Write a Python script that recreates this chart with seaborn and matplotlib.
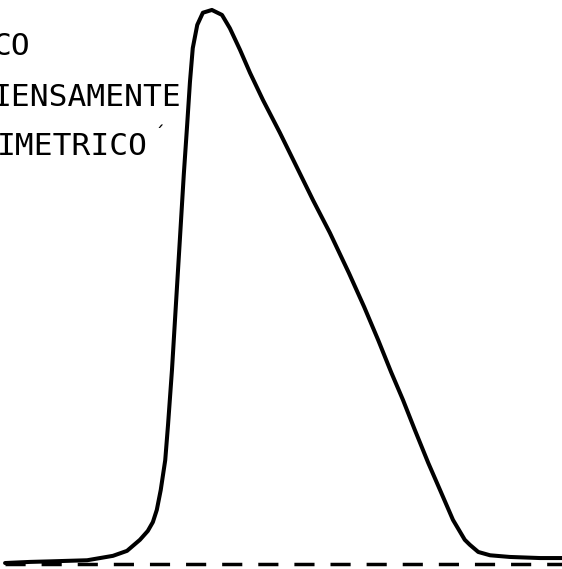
import matplotlib
matplotlib.use("Agg")
import matplotlib.pyplot as plt
import seaborn as sns
import pandas as pd

# Elution profile: retention (relative units) vs. detector response (% of peak)
retention = [0.9, 5.3, 8.9, 15.5, 17.8, 20.1, 22.6, 24.9, 26.3, 27.2, 27.9,
             28.6, 29.4, 29.9, 30.6, 31.3, 32.0, 32.7, 33.3, 33.8, 34.3,
             35.1, 36.1, 37.7, 39.5, 40.9, 42.7, 44.5, 46.8, 49.8, 52.8,
             55.7, 58.7, 62.1, 64.8, 67.3, 69.6, 71.7, 73.8, 76.2, 78.3,
             80.6, 82.7, 83.6, 85.1, 87.2, 90.7, 96.1, 100.0]
response = [0.0, 0.2, 0.3, 0.5, 0.9, 1.3, 2.2, 4.2, 5.8, 7.4, 9.6,
            13.2, 18.6, 25.0, 34.9, 46.7, 58.4, 70.2, 79.2, 87.0, 93.1,
            97.3, 99.5, 100.0, 99.1, 96.7, 92.8, 88.6, 83.7, 77.8, 71.6,
            65.6, 59.7, 52.4, 46.3, 40.3, 34.5, 29.5, 24.1, 18.1, 13.2,
            7.8, 4.2, 3.3, 2.0, 1.4, 1.1, 0.9, 0.9]

# Baseline level and its extent
baseline_level = -0.1
baseline_span = [0.9, 100.0]

# Annotation lines (left part of the legend block)
legend_lines = ["CO", "IENSAMENTE", "IMETRICO"]

sns.set_style("white")
plt.rcParams["font.family"] = ["DejaVu Sans Mono", "DejaVu Sans"]

W, H, DPI = 562, 569, 100
fig = plt.figure(figsize=(W / DPI, H / DPI), dpi=DPI)
ax = fig.add_axes([0, 0, 1, 1])

df = pd.DataFrame({"retention": retention, "response": response})
sns.lineplot(data=df, x="retention", y="response", color="black",
             linewidth=2.9, sort=False, estimator=None, ax=ax,
             solid_joinstyle="round", solid_capstyle="round")

# Dashed baseline
sns.lineplot(x=baseline_span, y=[baseline_level, baseline_level],
             color="black", linewidth=2.5, ax=ax)
ax.lines[-1].set_linestyle((0, (5.8, 4.6)))

ax.set_xlim(0, 100)
ax.set_ylim(-1.08, 101.8)
ax.set_axis_off()


def fx(px):
    return px / W


def fy(py):
    return 1 - py / H


# Legend text block, right-aligned to the cell edge
right_edges = [31, 182, 148]
baselines = [55, 106, 155]
for txt, xr, yb in zip(legend_lines, right_edges, baselines):
    fig.text(fx(xr), fy(yb), txt, ha="right", va="baseline",
             fontsize=22.5, color="black")

fig.text(fx(159), fy(134), "´", ha="center", va="center",
         fontsize=14, color="black")

fig.savefig("out.png", dpi=DPI, facecolor="white")
